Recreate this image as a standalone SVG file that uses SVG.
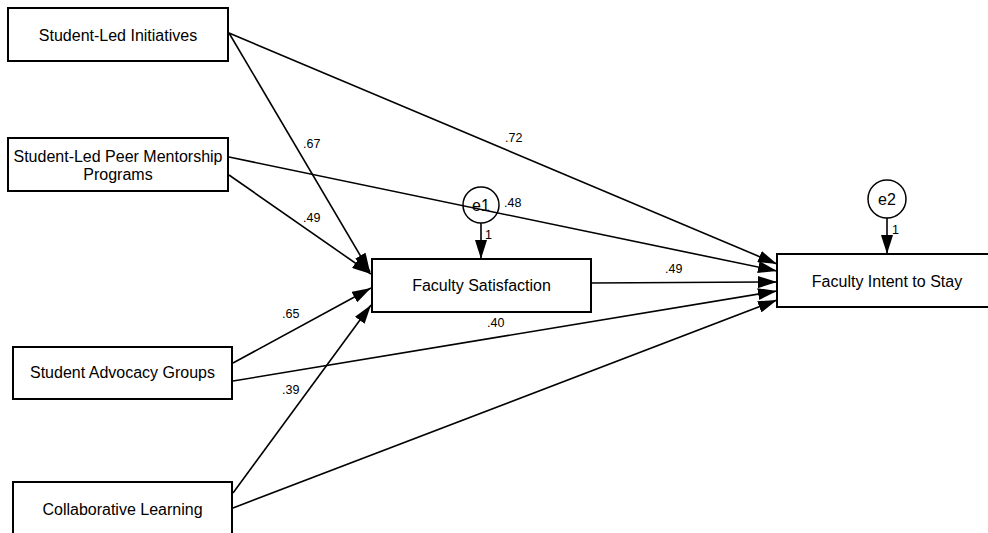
<svg xmlns="http://www.w3.org/2000/svg" width="988" height="533" viewBox="0 0 988 533">
<style>
.box{fill:#ffffff;stroke:#000;stroke-width:2}
.circ{fill:#ffffff;stroke:#000;stroke-width:1.5}
.lbl{font-family:"Liberation Sans",Arial,sans-serif;font-size:16px;fill:#000;text-anchor:middle}
.coef{font-family:"Liberation Sans",Arial,sans-serif;font-size:12.5px;fill:#000}
.edge{stroke:#000;stroke-width:1.6;fill:none;marker-end:url(#ah)}
</style>
<defs>
<marker id="ah" markerUnits="userSpaceOnUse" markerWidth="20" markerHeight="12" refX="19" refY="6" orient="auto">
<path d="M0,0 L19,6 L0,12 Z" fill="#000"/>
</marker>
</defs>
<rect width="988" height="533" fill="#fff"/>
<g id="connectors">
<line class="edge" x1="229" y1="33" x2="370" y2="272"/>
<line class="edge" x1="229" y1="33" x2="777" y2="264"/>
<line class="edge" x1="229" y1="157" x2="777" y2="271"/>
<line class="edge" x1="229" y1="175" x2="371" y2="274"/>
<line class="edge" x1="233" y1="363" x2="371" y2="288"/>
<line class="edge" x1="233" y1="381" x2="777" y2="291"/>
<line class="edge" x1="233" y1="493" x2="371" y2="305"/>
<line class="edge" x1="233" y1="508" x2="777" y2="300"/>
<line class="edge" x1="591" y1="283" x2="777" y2="282"/>
<line class="edge" x1="481" y1="223" x2="481" y2="259"/>
<line class="edge" x1="887" y1="218" x2="887" y2="254"/>
<text class="coef" x="303" y="148">.67</text>
<text class="coef" x="505" y="142">.72</text>
<text class="coef" x="504" y="207">.48</text>
<text class="coef" x="303" y="222">.49</text>
<text class="coef" x="282" y="318">.65</text>
<text class="coef" x="487" y="327">.40</text>
<text class="coef" x="282" y="394">.39</text>
<text class="coef" x="665" y="273">.49</text>
<text class="coef" x="485" y="239">1</text>
<text class="coef" x="892" y="234">1</text>
</g>
<g id="n-sli">
<rect class="box" x="8" y="8" width="220" height="53"/>
<text class="lbl" x="118" y="41">Student-Led Initiatives</text>
</g>
<g id="n-peer">
<rect class="box" x="8" y="138" width="220" height="53"/>
<text class="lbl" x="118" y="162">Student-Led Peer Mentorship</text>
<text class="lbl" x="118" y="180">Programs</text>
</g>
<g id="n-adv">
<rect class="box" x="13" y="347" width="219" height="52"/>
<text class="lbl" x="122.5" y="378">Student Advocacy Groups</text>
</g>
<g id="n-coll">
<rect class="box" x="13" y="482" width="219" height="53"/>
<text class="lbl" x="122.5" y="515">Collaborative Learning</text>
</g>
<g id="n-fs">
<rect class="box" x="372" y="259" width="219" height="53"/>
<text class="lbl" x="481.5" y="291">Faculty Satisfaction</text>
</g>
<g id="n-fis">
<rect class="box" x="777" y="254" width="220" height="53"/>
<text class="lbl" x="887" y="287">Faculty Intent to Stay</text>
</g>
<g id="n-e1">
<circle class="circ" cx="481" cy="205" r="18" fill-opacity="0"/>
<text class="lbl" x="481" y="211">e1</text>
</g>
<g id="n-e2">
<circle class="circ" cx="887" cy="199" r="19"/>
<text class="lbl" x="887" y="205">e2</text>
</g>
</svg>
